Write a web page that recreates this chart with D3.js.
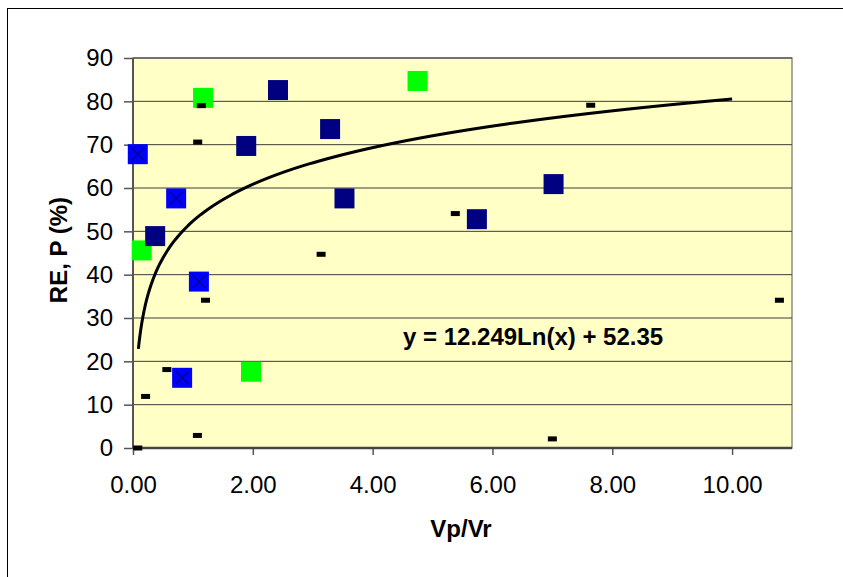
<!DOCTYPE html>
<meta charset="utf-8">
<script src="https://d3js.org/d3.v7.min.js"></script>
<style>
  body { margin: 0; background: #fff; }
  text { font-family: "Liberation Sans", Arial, sans-serif; }
</style>
<div id="chart"></div>
<script>
// values
var navyX = [0.37, 1.89, 2.42, 3.29, 3.53, 5.74, 7.02];
var navyY = [48.9, 69.7, 82.6, 73.6, 57.6, 52.8, 60.9];

var blueX = [0.08, 0.72, 1.10, 0.82];
var blueY = [67.8, 57.6, 38.4, 16.2];

var greenX = [1.17, 0.145, 1.97, 4.75];
var greenY = [80.8, 45.6, 17.6, 84.7];

var dashX = [1.14, 1.08, 1.21, 0.565, 0.21, 1.075, 0.08, 3.14, 7.64, 5.38, 10.79, 7.0];
var dashY = [79.0, 70.6, 34.1, 18.1, 11.9, 2.9, 0.0, 44.7, 79.1, 54.1, 34.1, 2.1];

var xTicks = [0, 2, 4, 6, 8, 10];
var yTicks = [0, 10, 20, 30, 40, 50, 60, 70, 80, 90];

// logarithmic trendline shown on the chart: y = a*ln(x) + b
var trendA = 12.249, trendB = 52.35;
var trendRange = [0.09, 10];
var trendLabel = "y = 12.249Ln(x) + 52.35";

var svgW = 843, svgH = 577;
var margin = {top: 58, right: 51, bottom: 129, left: 133},
    width = svgW - margin.left - margin.right,
    height = svgH - margin.top - margin.bottom;

var svg = d3.select("#chart").append("svg")
    .attr("width", svgW)
    .attr("height", svgH);

// outer chart frame
svg.append("rect")
    .attr("x", 7.5).attr("y", 8.5)
    .attr("width", 860).attr("height", 600)
    .style("fill", "#fff")
    .style("stroke", "#000")
    .style("stroke-width", 1);

var g = svg.append("g")
    .attr("transform", "translate(" + margin.left + "," + margin.top + ")");

var x = d3.scaleLinear().domain([0, 11]).range([0, width]);
var y = d3.scaleLinear().domain([0, 90]).range([height, 0]);

// plot area
g.append("rect")
    .attr("width", width).attr("height", height)
    .style("fill", "#FFFFC6")
    .style("stroke", "#8c8c8c")
    .style("stroke-width", 1.5);

// gridlines
g.selectAll(".grid")
  .data(yTicks.filter(function(d){ return d > 0; }))
  .enter().append("line")
    .attr("x1", 0).attr("x2", width)
    .attr("y1", function(d){ return y(d); })
    .attr("y2", function(d){ return y(d); })
    .style("stroke", "#3c3c3c")
    .style("stroke-width", 1);

// axes
var yAxis = g.append("g")
    .call(d3.axisLeft(y).tickValues(yTicks).tickSize(9).tickPadding(11).tickFormat(d3.format("d")));
var xAxis = g.append("g")
    .attr("transform", "translate(0," + height + ")")
    .call(d3.axisBottom(x).tickValues(xTicks).tickSize(7).tickPadding(21).tickFormat(d3.format(".2f")));

[xAxis, yAxis].forEach(function(ax){
  ax.select(".domain").remove();
  ax.selectAll("line").style("stroke", "#555").style("stroke-width", 1.5);
  ax.selectAll("text")
    .style("font-family", "'Liberation Sans', Arial, sans-serif")
    .style("font-size", "24px")
    .style("fill", "#000");
});
yAxis.selectAll("line").attr("x2", -9).attr("x1", 0);

// axis lines
g.append("line").attr("x1", 0).attr("x2", 0).attr("y1", 0).attr("y2", height)
    .style("stroke", "#555").style("stroke-width", 2);
g.append("line").attr("x1", 0).attr("x2", width).attr("y1", height).attr("y2", height)
    .style("stroke", "#444").style("stroke-width", 2.5);

var sq = 20;

function squares(xs, ys, colour) {
  g.append("g").selectAll("rect")
    .data(d3.zip(xs, ys))
    .enter().append("rect")
      .attr("x", function(d){ return x(d[0]) - sq/2; })
      .attr("y", function(d){ return y(d[1]) - sq/2; })
      .attr("width", sq).attr("height", sq)
      .style("fill", colour);
}

squares(greenX, greenY, "#00FF00");
squares(blueX, blueY, "#0000FF");
squares(navyX, navyY, "#000080");

// x markers on the blue series
var cross = g.append("g").selectAll("path")
  .data(d3.zip(blueX, blueY))
  .enter().append("path")
    .attr("d", function(d){
      var cx = x(d[0]), cy = y(d[1]), s = 6.5;
      return "M" + (cx - s) + "," + (cy - s) + "L" + (cx + s) + "," + (cy + s) +
             "M" + (cx - s) + "," + (cy + s) + "L" + (cx + s) + "," + (cy - s);
    })
    .style("stroke", "#000080")
    .style("stroke-width", 1.3)
    .style("fill", "none");

// dash markers
g.append("g").selectAll("rect")
  .data(d3.zip(dashX, dashY))
  .enter().append("rect")
    .attr("x", function(d){ return x(d[0]) - 4.5; })
    .attr("y", function(d){ return y(d[1]) - 2.5; })
    .attr("width", 9).attr("height", 5)
    .style("fill", "#000");

// trendline
var trendPts = d3.range(0, 201).map(function(i){
  var t = trendRange[0] * Math.pow(trendRange[1] / trendRange[0], i / 200);
  return [t, trendA * Math.log(t) + trendB];
});
g.append("path")
    .datum(trendPts)
    .attr("d", d3.line()
      .x(function(d){ return x(d[0]); })
      .y(function(d){ return y(d[1]); }))
    .style("fill", "none")
    .style("stroke", "#000")
    .style("stroke-width", 3);

// trendline equation
g.append("text")
    .attr("x", 403 - margin.left)
    .attr("y", 345 - margin.top)
    .style("font-size", "24px")
    .style("font-weight", "bold")
    .text(trendLabel);

// axis titles
svg.append("text")
    .attr("text-anchor", "middle")
    .attr("x", 461).attr("y", 537)
    .style("font-size", "24px")
    .style("font-weight", "bold")
    .text("Vp/Vr");

svg.append("text")
    .attr("text-anchor", "middle")
    .attr("transform", "translate(67,250)rotate(-90)")
    .style("font-size", "24px")
    .style("font-weight", "bold")
    .text("RE, P (%)");
</script>
